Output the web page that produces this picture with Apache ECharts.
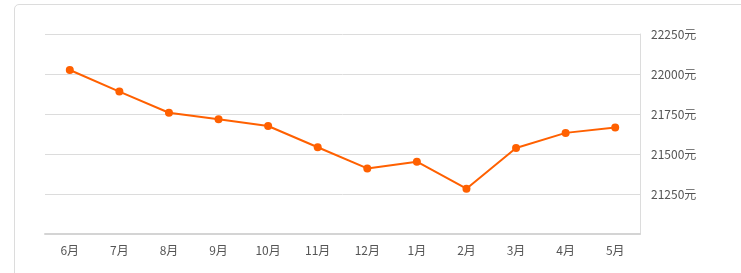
<!DOCTYPE html>
<html><head><meta charset="utf-8">
<script src="https://cdn.jsdelivr.net/npm/echarts@6/dist/echarts.min.js"></script>
<style>
html,body{margin:0;padding:0;width:741px;height:273px;overflow:hidden;background:#fff;}
#frame{position:absolute;left:14px;top:4px;width:800px;height:400px;border:1px solid #dcdcdc;border-radius:5px;box-sizing:border-box;}
#c{position:absolute;left:0;top:0;width:741px;height:273px;}
</style></head>
<body>
<div id="frame"></div>
<div id="c"></div>
<script>
const categories = ['6月','7月','8月','9月','10月','11月','12月','1月','2月','3月','4月','5月'];
const prices = [22025, 21890, 21758, 21717, 21675, 21542, 21410, 21452, 21283, 21537, 21632, 21665];
const yMin = 21000, yMax = 22250, yStep = 250;

const chart = echarts.init(document.getElementById('c'), null, {renderer:'canvas'});
chart.setOption({
  animation:false,
  grid:{left:45, right:101, top:34, bottom:39},
  xAxis:{
    type:'category', data:categories, boundaryGap:true,
    axisLine:{lineStyle:{color:'#d4d4d4', width:2}},
    axisTick:{alignWithLabel:true, length:4, lineStyle:{color:'#d4d4d4'}},
    axisLabel:{color:'#555', fontSize:12, margin:10, fontFamily:'"Noto Sans CJK SC", sans-serif'}
  },
  yAxis:{
    type:'value', position:'right', min:yMin, max:yMax, interval:yStep,
    axisLine:{show:true, lineStyle:{color:'#dcdcdc'}},
    axisTick:{show:false},
    splitLine:{lineStyle:{color:'#dcdcdc'}},
    axisLabel:{color:'#555', fontSize:12, margin:11,
      formatter:function(v){ return String(v) + '元'; },
      fontFamily:'"Noto Sans CJK SC", sans-serif',
      showMinLabel:false}
  },
  series:[{
    type:'line', data:prices, symbol:'circle', symbolSize:8,
    itemStyle:{color:'#ff6000'}, lineStyle:{color:'#ff6000', width:2}
  }]
});
</script>
</body></html>
